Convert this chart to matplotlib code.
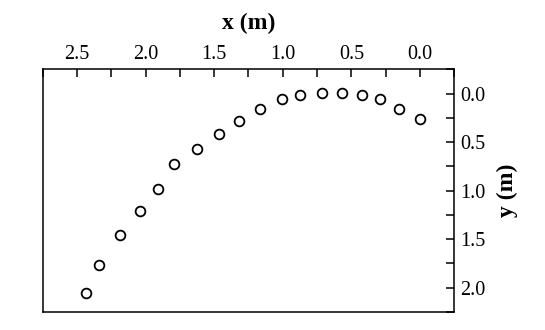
import matplotlib.pyplot as plt
from matplotlib.ticker import MultipleLocator

# trajectory points
x_m = [2.435, 2.336, 2.185, 2.044, 1.913, 1.794, 1.624, 1.464, 1.316,
       1.165, 1.003, 0.874, 0.714, 0.566, 0.425, 0.294, 0.153, 0.002]
y_m = [2.059, 1.770, 1.457, 1.205, 0.978, 0.723, 0.575, 0.413, 0.282,
       0.162, 0.052, 0.014, -0.007, -0.007, 0.014, 0.052, 0.162, 0.261]

plt.rcParams['font.family'] = ['Liberation Serif', 'DejaVu Serif']

fig = plt.figure(figsize=(5.45, 3.30), dpi=100)
ax = fig.add_axes([0.0783, 0.0545, 0.7553, 0.7355])

ax.plot(x_m, y_m, linestyle='none', marker='o', markersize=7,
        markerfacecolor='none', markeredgecolor='black', markeredgewidth=1.3)

ax.set_xlim(2.75, -0.25)
ax.set_ylim(2.25, -0.25)

ax.xaxis.set_major_locator(MultipleLocator(0.5))
ax.xaxis.set_minor_locator(MultipleLocator(0.25))
ax.yaxis.set_major_locator(MultipleLocator(0.5))
ax.yaxis.set_minor_locator(MultipleLocator(0.25))
ax.xaxis.set_major_formatter(plt.FormatStrFormatter('%.1f'))
ax.yaxis.set_major_formatter(plt.FormatStrFormatter('%.1f'))

ax.xaxis.tick_top()
ax.xaxis.set_label_position('top')
ax.yaxis.tick_right()
ax.yaxis.set_label_position('right')

ax.tick_params(which='both', direction='in', length=6, width=1.1, labelsize=14.5)
ax.tick_params(axis='x', pad=3.5)
ax.tick_params(axis='y', pad=4.5)

ax.set_xlabel('x (m)', fontsize=17, fontweight='bold', labelpad=12)
ax.set_ylabel('y (m)', fontsize=17, fontweight='bold', labelpad=8)

for s in ax.spines.values():
    s.set_linewidth(1.1)

fig.savefig('out.png', dpi=100)
